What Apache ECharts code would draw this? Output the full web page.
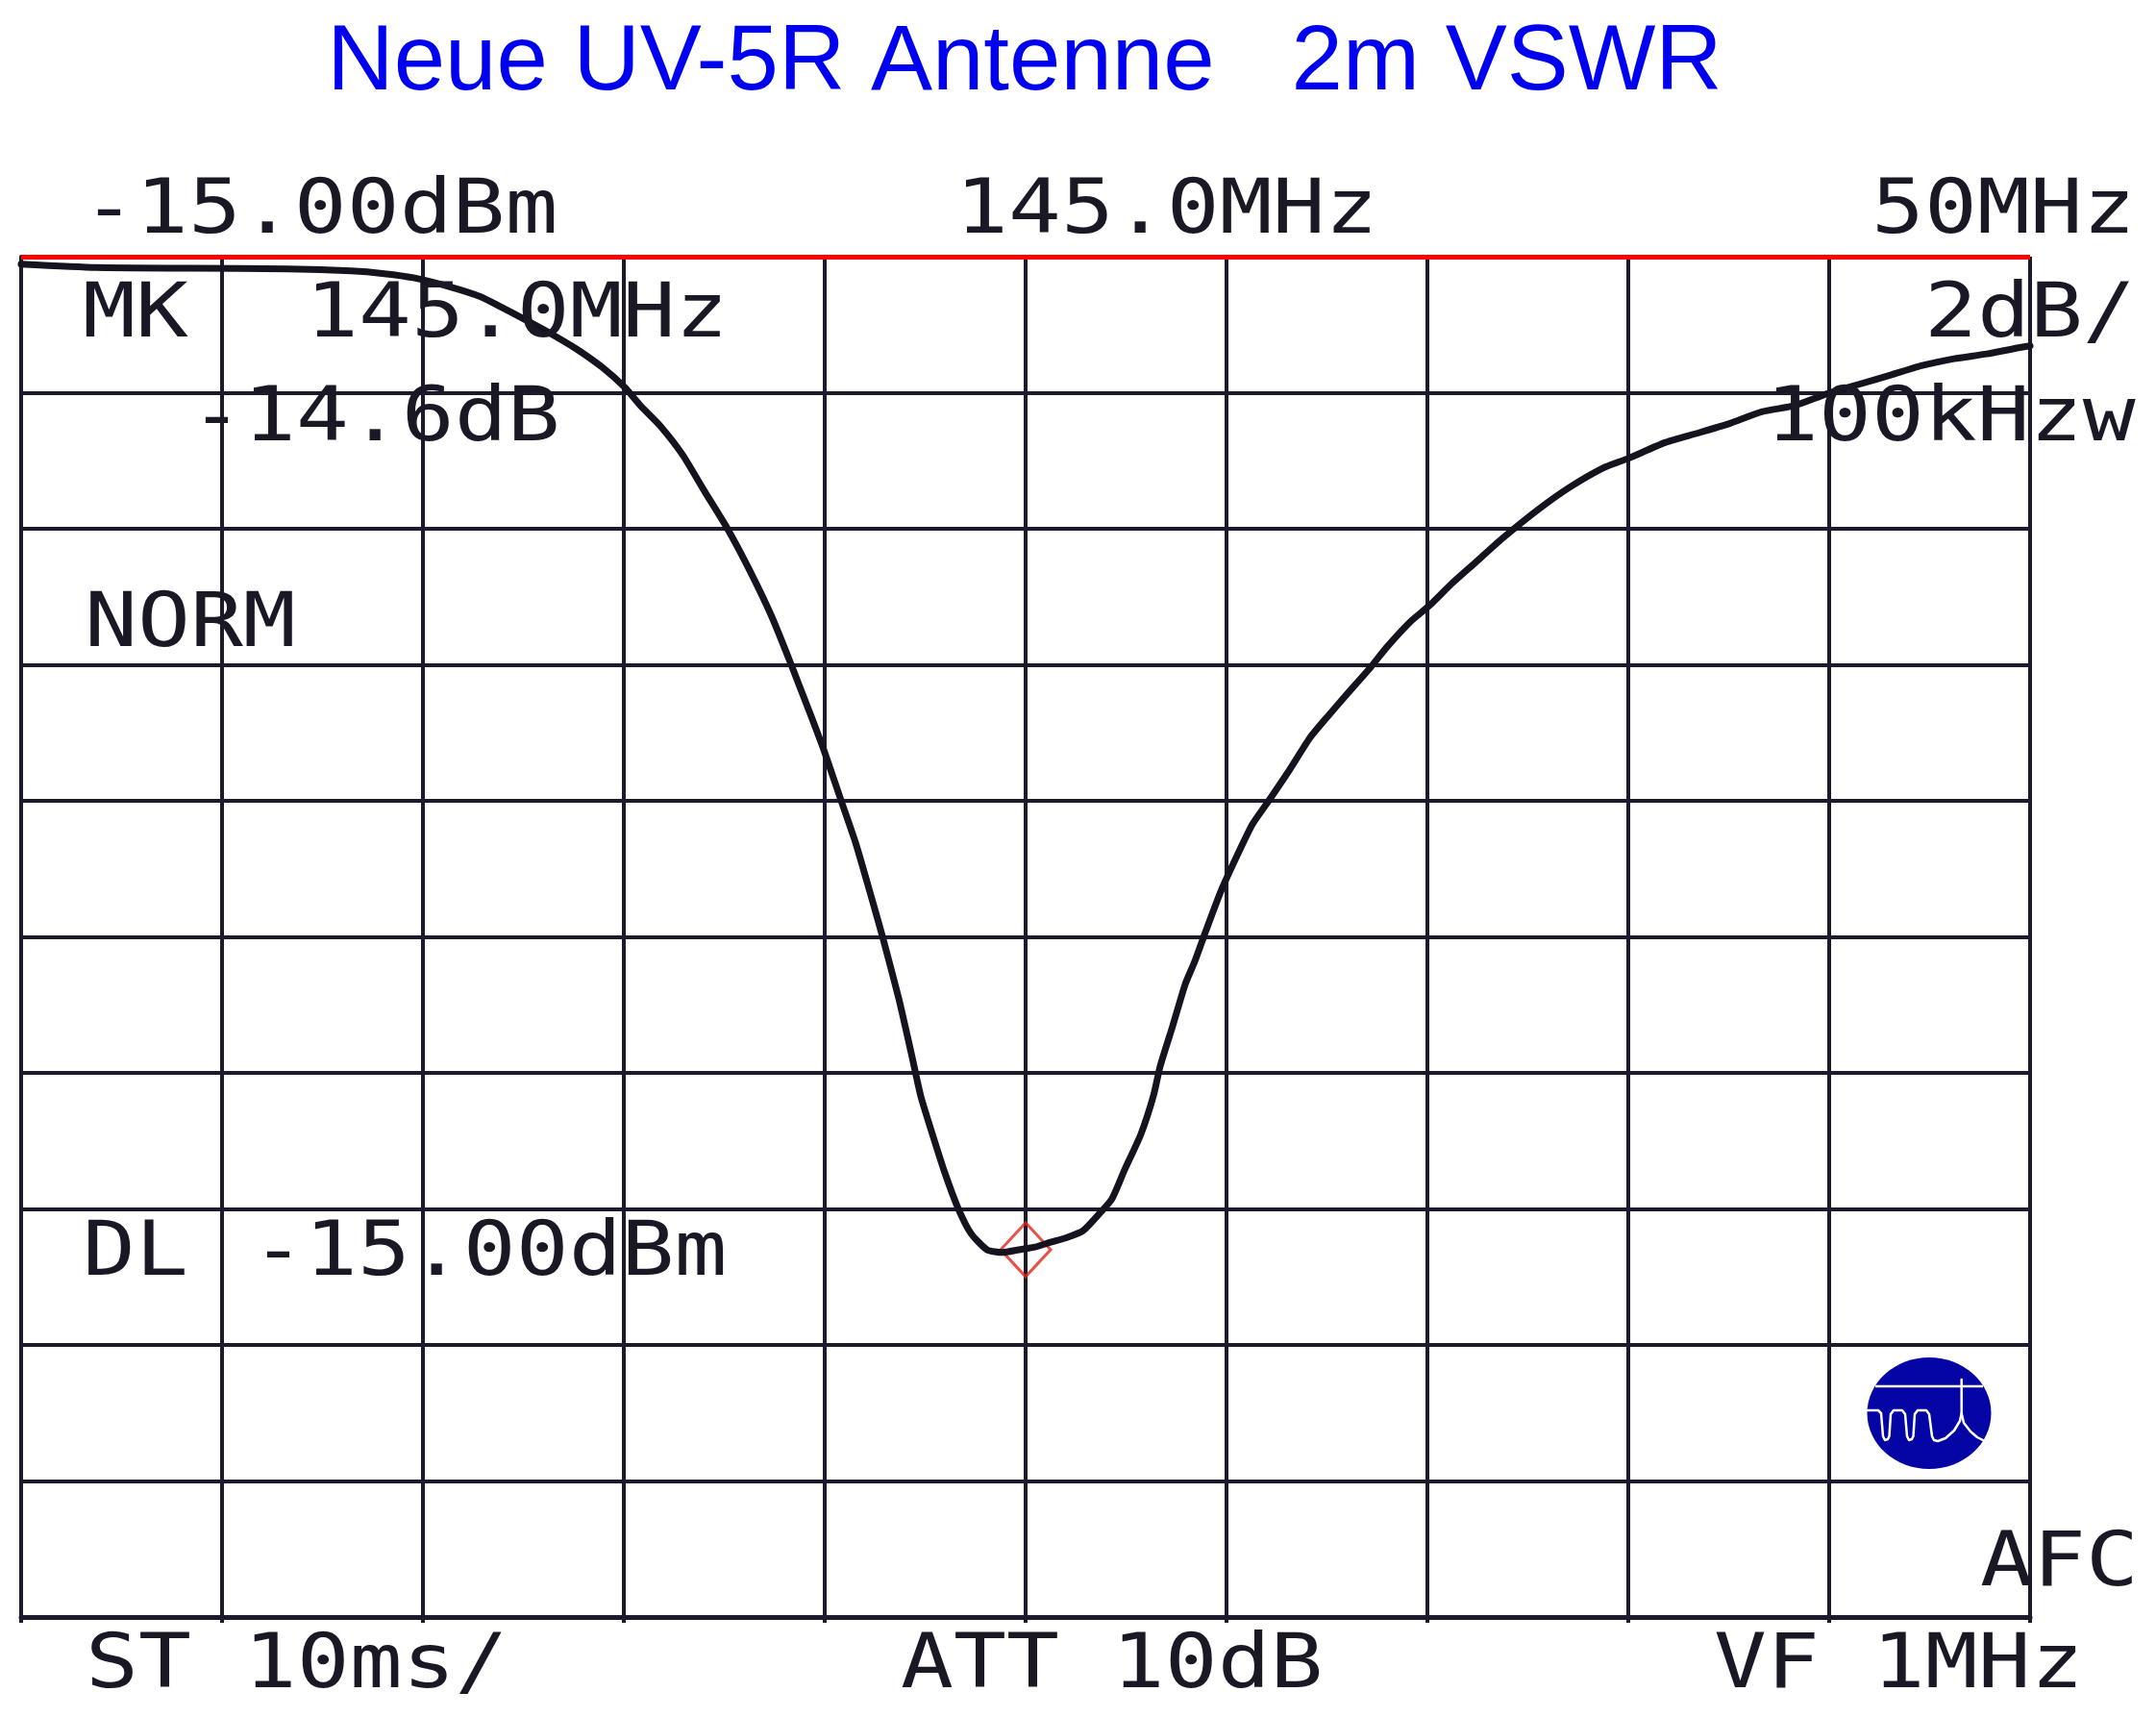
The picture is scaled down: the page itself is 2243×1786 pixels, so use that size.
<!DOCTYPE html>
<html>
<head>
<meta charset="utf-8">
<title>Neue UV-5R Antenne 2m VSWR</title>
<script src="https://cdn.jsdelivr.net/npm/echarts@6/dist/echarts.min.js"></script>
<style>
  html, body { margin: 0; padding: 0; background: #ffffff; }
  #chart { width: 2243px; height: 1786px; }
</style>
</head>
<body>
<div id="chart"></div>
<script>
// ---------------- data ----------------
// frequency in MHz (centre 145.0 MHz, span 50 MHz, 5 MHz/div)
const freqMHz = [
  120.00, 121.87, 124.26, 126.65, 128.21, 129.04, 129.76, 130.65, 131.44, 131.91,
  132.56, 133.18, 133.83, 134.47, 135.02, 135.43, 135.91, 136.46, 137.01, 137.58,
  138.13, 138.68, 139.16, 139.69, 140.00, 140.41, 140.77, 141.12, 141.44, 141.84,
  142.15, 142.39, 142.68, 142.99, 143.32, 143.64, 144.04, 144.43, 144.83, 145.24,
  145.62, 146.03, 146.43, 146.82, 147.15, 147.46, 147.87, 148.18, 148.35, 148.66,
  148.97, 149.21, 149.50, 149.86, 150.26, 150.65, 151.05, 151.53, 152.08, 152.56,
  152.97, 153.61, 153.99, 154.57, 155.05, 155.60, 156.15, 156.87, 157.75, 158.54,
  159.36, 159.98, 160.93, 161.75, 162.53, 163.32, 164.14, 164.93, 165.72, 166.53,
  167.32, 168.11, 168.92, 169.71, 170.00
];
// level in dB relative to the reference level (-15.00 dBm), 2 dB/div
const levelDb = [
  -0.11, -0.16, -0.17, -0.18, -0.21, -0.25, -0.31, -0.44, -0.59, -0.73,
  -0.93, -1.13, -1.36, -1.63, -1.92, -2.20, -2.49, -2.91, -3.45, -4.00,
  -4.61, -5.29, -5.99, -6.80, -7.29, -8.00, -8.62, -9.33, -10.00, -10.90,
  -11.70, -12.34, -12.90, -13.47, -13.99, -14.36, -14.60, -14.64, -14.60, -14.56,
  -14.49, -14.42, -14.32, -14.08, -13.85, -13.43, -12.90, -12.34, -11.90, -11.31,
  -10.70, -10.36, -9.89, -9.33, -8.81, -8.34, -8.00, -7.58, -7.07, -6.73,
  -6.45, -6.02, -5.74, -5.37, -5.13, -4.81, -4.52, -4.14, -3.72, -3.39,
  -3.11, -2.97, -2.73, -2.59, -2.45, -2.28, -2.19, -2.02, -1.88, -1.74,
  -1.60, -1.50, -1.43, -1.34, -1.31
];
const markerFreq = [145.0];
const markerLevel = [-14.6];
const refLevel = [0];

// screen texts
const titleText = 'Neue UV-5R Antenne   2m VSWR';
const topTexts = ['-15.00dBm', '145.0MHz', '50MHz'];
const markerTexts = ['MK', '145.0MHz', '-14.6dB'];
const rightTexts = ['2dB/', '100kHzw', 'AFC'];
const modeTexts = ['NORM', 'DL', '-15.00dBm'];
const bottomTexts = ['ST 10ms/', 'ATT 10dB', 'VF 1MHz'];

// ---------------- chart ----------------
const chart = echarts.init(document.getElementById('chart'), null, { renderer: 'canvas' });

const GRID = '#1e1a2e';
const INK = '#1b1826';
const MONO = '"DejaVu Sans Mono", monospace';
const MONO_SIZE = 78;
const MONO_SCALE = 1.17;
const DY = 4;

function screenText(str, x, yMid) {
  return {
    type: 'text',
    x: x, y: yMid + DY,
    scaleX: MONO_SCALE,
    z: 50,
    style: {
      text: str,
      fontFamily: MONO,
      fontSize: MONO_SIZE,
      fill: INK,
      align: 'left',
      verticalAlign: 'middle'
    }
  };
}

const logoWave = [
  [1943,1467],[1954,1467],[1957,1470],[1959,1494],[1961,1498],[1964,1497],[1965.5,1494],
  [1967,1471],[1970,1467],[1979,1467],[1982,1471],[1984,1494],[1986,1498],[1989,1497],
  [1990.5,1494],[1992,1471],[1995,1467],[2004,1467],[2007,1471],[2010,1494],[2012,1498],
  [2016,1499],[2024,1496],[2033,1488],[2039,1478],[2040.7,1470],[2040.7,1435]
];
const logoLeg = [[2040.7,1470],[2043,1480],[2050,1489],[2057,1495],[2063,1498]];

const graphics = [
  {
    type: 'text',
    x: 1066, y: 67,
    z: 50,
    style: {
      text: titleText,
      fontFamily: '"Liberation Sans", Arial, sans-serif',
      fontSize: 96,
      fill: '#0000f0',
      align: 'center',
      verticalAlign: 'middle'
    }
  },
  screenText(topTexts[0], 86, 218),
  screenText(topTexts[1], 994, 218),
  screenText(topTexts[2], 1947, 218),
  screenText(markerTexts[0], 86, 326),
  screenText(markerTexts[1], 318, 326),
  screenText(markerTexts[2], 198, 434),
  screenText(rightTexts[0], 2002, 326),
  screenText(rightTexts[1], 1837, 434),
  screenText(rightTexts[2], 2060, 1625),
  screenText(modeTexts[0], 88, 648),
  screenText(modeTexts[1], 86, 1302),
  screenText(modeTexts[2], 262, 1302),
  screenText(bottomTexts[0], 89, 1731),
  screenText(bottomTexts[1], 937, 1731),
  screenText(bottomTexts[2], 1783, 1731),
  // logo
  {
    type: 'ellipse',
    z: 40,
    shape: { cx: 2007, cy: 1470, rx: 64.5, ry: 58 },
    style: { fill: '#0505a6' }
  },
  {
    type: 'line',
    z: 41,
    shape: { x1: 1951, y1: 1442, x2: 2063, y2: 1442 },
    style: { stroke: '#ffffff', lineWidth: 2.5 }
  },
  {
    type: 'polyline',
    z: 41,
    shape: { points: logoWave },
    style: { stroke: '#ffffff', lineWidth: 2.5, fill: null, lineJoin: 'round', lineCap: 'round' }
  },
  {
    type: 'polyline',
    z: 41,
    shape: { points: logoLeg },
    style: { stroke: '#ffffff', lineWidth: 2.5, fill: null, lineJoin: 'round', lineCap: 'round' }
  }
];

const option = {
  backgroundColor: '#ffffff',
  animation: false,
  grid: { left: 22, right: 131, top: 267, bottom: 104, containLabel: false },
  xAxis: {
    type: 'value',
    min: 120, max: 170, interval: 5,
    axisLine: { show: true, onZero: false, lineStyle: { color: GRID, width: 5 } },
    axisTick: { show: true, length: 6, lineStyle: { color: GRID, width: 4 } },
    axisLabel: { show: false },
    splitLine: { show: true, lineStyle: { color: GRID, width: 4 } }
  },
  yAxis: {
    type: 'value',
    min: -20, max: 0, interval: 2,
    axisLine: { show: true, onZero: false, lineStyle: { color: GRID, width: 4 } },
    axisTick: { show: false },
    axisLabel: { show: false },
    splitLine: { show: true, lineStyle: { color: GRID, width: 4 } }
  },
  series: [
    {
      type: 'scatter',
      z: 2,
      silent: true,
      data: markerFreq.map((f, i) => [f, markerLevel[i]]),
      symbol: 'diamond',
      symbolSize: [52, 56],
      itemStyle: { color: 'rgba(0,0,0,0)', borderColor: '#e0261e', borderWidth: 3 }
    },
    {
      type: 'line',
      z: 3,
      silent: true,
      data: freqMHz.map((f, i) => [f, levelDb[i]]),
      showSymbol: false,
      smooth: 0.2,
      lineStyle: { color: '#16131e', width: 7, cap: 'round', join: 'round' },
      markLine: {
        silent: true,
        symbol: ['none', 'none'],
        label: { show: false },
        lineStyle: { color: '#ff0000', width: 5, type: 'solid' },
        data: refLevel.map(v => ({ yAxis: v }))
      }
    }
  ],
  graphic: graphics
};

chart.setOption(option);
</script>
</body>
</html>
